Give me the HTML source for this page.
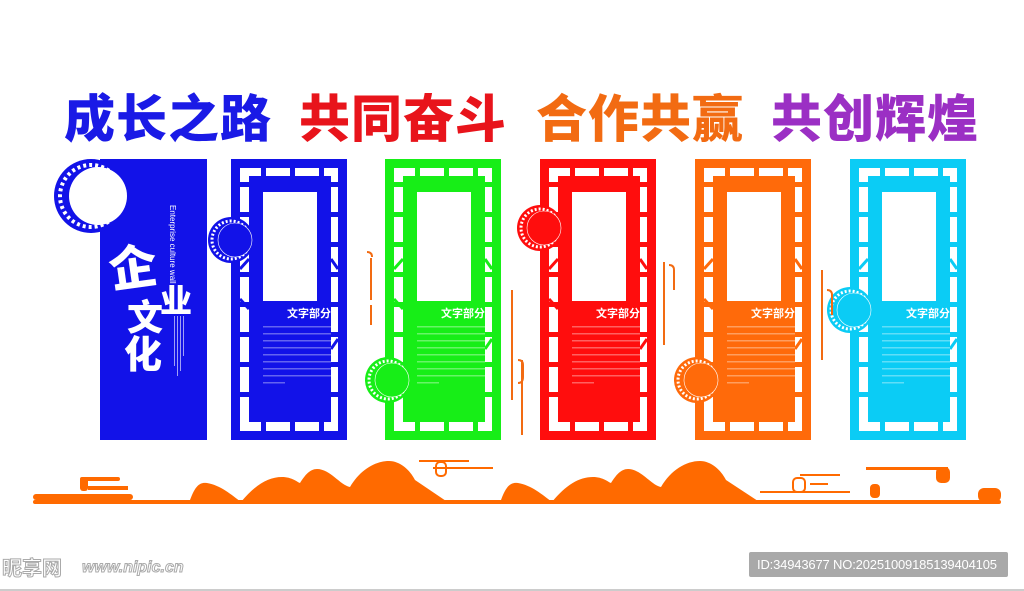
<!DOCTYPE html>
<html><head><meta charset="utf-8"><style>
body{margin:0;width:1024px;height:591px;background:#fff;overflow:hidden;position:relative;font-family:"Liberation Sans","Noto Sans CJK SC",sans-serif}
.t{position:absolute;top:83px;font-size:51px;font-weight:900;letter-spacing:1px;white-space:nowrap;font-family:"Noto Sans CJK SC",sans-serif;line-height:64px}
</style></head><body>
<div class="t" style="left:64px;color:#1a1ae6">成长之路</div>
<div class="t" style="left:299px;color:#e8141b">共同奋斗</div>
<div class="t" style="left:536px;color:#f26b12">合作共赢</div>
<div class="t" style="left:771px;color:#9b2fc4">共创辉煌</div>
<svg id="s" width="1024" height="591" style="position:absolute;left:0;top:0" xmlns="http://www.w3.org/2000/svg">
<rect x="100" y="159" width="107" height="281" fill="#1212e8"/>
<circle cx="91" cy="196" r="37" fill="#1212e8"/>
<circle cx="91" cy="196" r="31" fill="none" stroke="#fff" stroke-width="4" stroke-dasharray="3 3"/>
<circle cx="98" cy="196" r="29" fill="#fff"/>
<text x="0" y="0" transform="translate(170,205) rotate(90)" fill="#fff" font-size="8" font-family="Liberation Sans">Enterprise culture wall</text>
<text x="108" y="285" fill="#fff" font-size="48" font-weight="900" font-family="Noto Sans CJK SC" transform="rotate(-8 130 260)">企</text>
<text x="160" y="312" fill="#fff" font-size="32" font-weight="900" font-family="Noto Sans CJK SC">业</text>
<text x="127" y="330" fill="#fff" font-size="36" font-weight="900" font-family="Noto Sans CJK SC">文</text>
<text x="124" y="368" fill="#fff" font-size="38" font-weight="900" font-family="Noto Sans CJK SC">化</text>
<g fill="#fff" opacity=".6"><rect x="174" y="316" width="1" height="50"/><rect x="177" y="316" width="1" height="60"/><rect x="180" y="316" width="1" height="55"/><rect x="183" y="316" width="1" height="40"/></g>
<g id="panels"></g>
<g stroke="#f26b12" stroke-width="2" fill="none">
<path d="M371 258 V300 M371 305 V325"/>
<path d="M367 252 q5 0 5 5"/>
<path d="M512 290 V400 M522 360 V435"/>
<path d="M518 360 q5 0 5 5 v12 q0 6 -5 6"/>
<path d="M664 262 V345"/><path d="M669 265 q5 0 5 5 v20"/>
<path d="M822 270 V360"/><path d="M827 290 q5 0 5 5 v20"/>
</g>
<path fill="#ff6a00" d="M189 503 C195 485 200 482 207 483 C220 485 232 495 241 502 C255 485 268 477 282 477 C292 477 297 482 300 483 C305 475 310 469 317 469 C330 469 340 485 350 487 C360 470 375 461 389 461 C400 461 410 470 415 480 L449 503 Z"/>
<path fill="#ff6a00" d="M500 503 C506 485 511 482 518 483 C531 485 543 495 552 502 C566 485 579 477 593 477 C603 477 608 482 611 483 C616 475 621 469 628 469 C641 469 651 485 661 487 C671 470 686 461 700 461 C711 461 721 470 726 480 L761 503 Z"/>
<rect x="33" y="500" width="968" height="4" rx="2" fill="#ff6a00"/>
<rect x="33" y="494" width="100" height="6" rx="3" fill="#ff6a00"/>
<rect x="80" y="477" width="40" height="4" rx="2" fill="#ff6a00"/>
<rect x="80" y="477" width="8" height="14" rx="3" fill="#ff6a00"/>
<rect x="88" y="486" width="40" height="4" fill="#ff6a00"/>
<rect x="419" y="460" width="50" height="2" fill="#ff6a00"/><rect x="433" y="467" width="60" height="2" fill="#ff6a00"/><rect x="436" y="462" width="10" height="14" rx="4" fill="none" stroke="#ff6a00" stroke-width="2"/>
<rect x="760" y="491" width="90" height="2" fill="#ff6a00"/><rect x="800" y="474" width="40" height="2" fill="#ff6a00"/><rect x="793" y="478" width="12" height="14" rx="4" fill="none" stroke="#ff6a00" stroke-width="2"/>
<rect x="810" y="483" width="18" height="2" fill="#ff6a00"/>
<rect x="870" y="484" width="10" height="14" rx="4" fill="#ff6a00"/><rect x="866" y="467" width="82" height="3" fill="#ff6a00"/>
<rect x="936" y="467" width="14" height="16" rx="5" fill="#ff6a00"/>
<rect x="978" y="488" width="23" height="14" rx="6" fill="#ff6a00"/>
<rect x="749" y="552" width="259" height="25" rx="2" fill="#a9a9a9"/>
<text x="757" y="569" fill="#fff" font-size="13" font-family="Liberation Sans Narrow, Liberation Sans" textLength="240">ID:34943677 NO:20251009185139404105</text>
<text x="2" y="575" fill="#fff" stroke="#aaa" stroke-width="1" font-size="20" font-weight="bold" font-family="Noto Sans CJK SC">昵享网</text>
<text x="82" y="572" fill="#fff" stroke="#aaa" stroke-width="1" font-size="16" font-style="italic" font-weight="bold" font-family="Liberation Sans">www.nipic.cn</text>
<rect x="0" y="589" width="1024" height="2" fill="#ccc"/>
</svg>
<script>
var P=[[231,'#1212e8',231,240],[385,'#17ee17',388,380],[540,'#ff0d0d',540,228],[695,'#ff6a0a',697,380],[850,'#0bccf5',850,310]];
var h='';
P.forEach(function(p){var x=p[0],c=p[1],w=116,H=281,y=159;
h+='<rect x="'+x+'" y="'+y+'" width="'+w+'" height="'+H+'" fill="'+c+'"/>';
h+='<rect x="'+(x+9)+'" y="'+(y+9)+'" width="'+(w-18)+'" height="'+(H-18)+'" fill="#fff"/>';
h+='<rect x="'+(x+18)+'" y="'+(y+17)+'" width="'+(w-34)+'" height="'+(H-35)+'" fill="'+c+'"/>';
[30,59,88].forEach(function(d){h+='<rect x="'+(x+d)+'" y="'+(y+9)+'" width="5" height="9" fill="'+c+'"/><rect x="'+(x+d)+'" y="'+(y+H-18)+'" width="5" height="9" fill="'+c+'"/>';});
for(var k=23;k<H-20;k+=30){h+='<rect x="'+(x+9)+'" y="'+(y+k)+'" width="9" height="5" fill="'+c+'"/><rect x="'+(x+w-16)+'" y="'+(y+k)+'" width="9" height="5" fill="'+c+'"/>';}
h+='<path d="M'+(x+9)+' '+(y+110)+' L'+(x+18)+' '+(y+100)+' M'+(x+9)+' '+(y+140)+' L'+(x+18)+' '+(y+150)+' M'+(x+w-9)+' '+(y+110)+' L'+(x+w-16)+' '+(y+100)+' M'+(x+w-9)+' '+(y+180)+' L'+(x+w-16)+' '+(y+190)+'" stroke="'+c+'" stroke-width="3"/>';
h+='<rect x="'+(x+32)+'" y="'+(y+33)+'" width="54" height="109" fill="#fff"/>';
h+='<text x="'+(x+100)+'" y="'+(y+158)+'" text-anchor="end" fill="#fff" font-size="11" font-weight="bold" font-family="Noto Sans CJK SC">文字部分</text>';
for(var i=0;i<9;i++){h+='<rect x="'+(x+32)+'" y="'+(y+167+i*7)+'" width="'+(i==8?22:68)+'" height="1.5" fill="#fff" opacity=".35"/>';}
h+='<circle cx="'+p[2]+'" cy="'+p[3]+'" r="23" fill="'+c+'"/><circle cx="'+p[2]+'" cy="'+p[3]+'" r="19" fill="none" stroke="#fff" stroke-width="3" stroke-dasharray="2 2"/><circle cx="'+(p[2]+4)+'" cy="'+p[3]+'" r="17" fill="'+c+'" stroke="#fff" stroke-width=".6"/>';
});
document.getElementById('panels').innerHTML=h;
</script>
</body></html>
